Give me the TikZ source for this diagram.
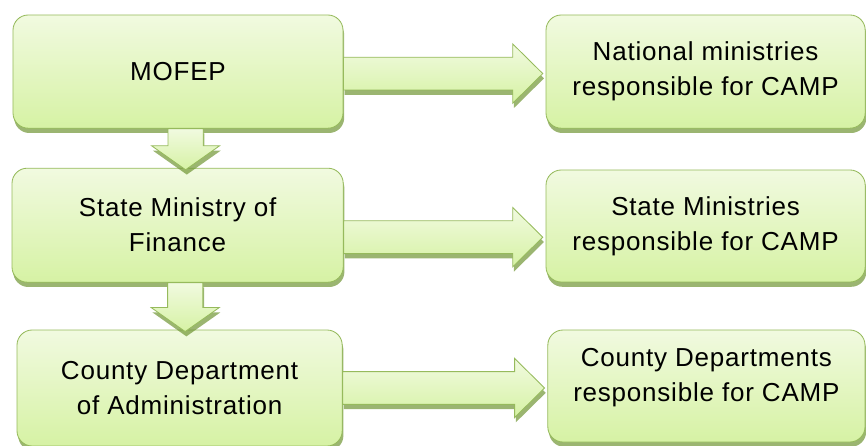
\documentclass[tikz,border=0pt]{standalone}
\usepackage{fontspec}
\setmainfont{Liberation Sans}[LetterSpace=3]
\usetikzlibrary{calc,shadows}

\definecolor{boxtop}{RGB}{241,250,224}
\definecolor{boxbottom}{RGB}{214,242,164}
\definecolor{boxedge}{RGB}{150,186,92}
\definecolor{boxshade}{RGB}{112,150,52}

\tikzset{
    box/.style={draw=boxedge, line width=0.6pt, rounded corners=0.38cm,
        top color=boxtop, bottom color=boxbottom, align=center,
        font=\fontsize{18.5}{24.9}\selectfont,
        drop shadow={shadow xshift=0.03cm, shadow yshift=-0.12cm, fill=boxshade, opacity=0.7}},
    blockarrow/.style={draw=boxedge, line width=0.6pt, line join=miter,
        top color=boxtop, bottom color=boxbottom,
        drop shadow={shadow xshift=0.03cm, shadow yshift=-0.12cm, fill=boxshade, opacity=0.7}}
}

% fat arrow from the east side of #2 to the west side of #3, shifted by #1 (cm)
\newcommand\harrow[3][0]{%
    \draw[blockarrow] let \p1=(#2.east), \p2=(#3.west) in
        (\x1,\y1+#1cm+0.41cm) -- (\x2-0.82cm,\y1+#1cm+0.41cm) -- (\x2-0.82cm,\y1+#1cm+0.74cm)
        -- (\x2-0.07cm,\y1+#1cm) -- (\x2-0.82cm,\y1+#1cm-0.74cm) -- (\x2-0.82cm,\y1+#1cm-0.41cm)
        -- (\x1,\y1+#1cm-0.41cm) -- cycle;}
% fat arrow from the south side of #1 down to the north side of #2
\newcommand\varrow[2]{%
    \draw[blockarrow] let \p1=(#1.south), \p2=(#2.north) in
        (\x1-0.25cm,\y1) -- (\x1-0.25cm,\y2+0.55cm) -- (\x1-0.66cm,\y2+0.55cm)
        -- (\x1+0.19cm,\y2-0.05cm) -- (\x1+1.04cm,\y2+0.55cm) -- (\x1+0.63cm,\y2+0.55cm)
        -- (\x1+0.63cm,\y1) -- cycle;}

\begin{document}
\begin{tikzpicture}
    \useasboundingbox (0,0) rectangle (21.65,-11.15);

    \node[box, minimum width=8.25cm, minimum height=2.83cm] (mofep) at (4.45,-1.79) {MOFEP};
    \node[box, minimum width=8.28cm, minimum height=2.85cm] (smf) at (4.44,-5.63) {State Ministry of\\Finance};
    \node[box, minimum width=8.13cm, minimum height=2.9cm] (cda) at (4.49,-9.7) {County Department\\of Administration};

    \node[box, minimum width=7.98cm, minimum height=2.83cm] (natmin) at (17.64,-1.79) {National ministries\\responsible for CAMP};
    \node[box, minimum width=7.98cm, minimum height=2.8cm] (statemin) at (17.64,-5.65) {State Ministries\\responsible for CAMP};
    \node[box, minimum width=7.93cm, minimum height=2.8cm] (countydep) at (17.66,-9.65) {County Departments\\responsible for CAMP\rule[-0.55cm]{0pt}{0pt}};

    \varrow{mofep}{smf}
    \varrow{smf}{cda}

    \harrow[-0.05]{mofep}{natmin}
    \harrow[-0.3]{smf}{statemin}
    \harrow{cda}{countydep}
\end{tikzpicture}
\end{document}
